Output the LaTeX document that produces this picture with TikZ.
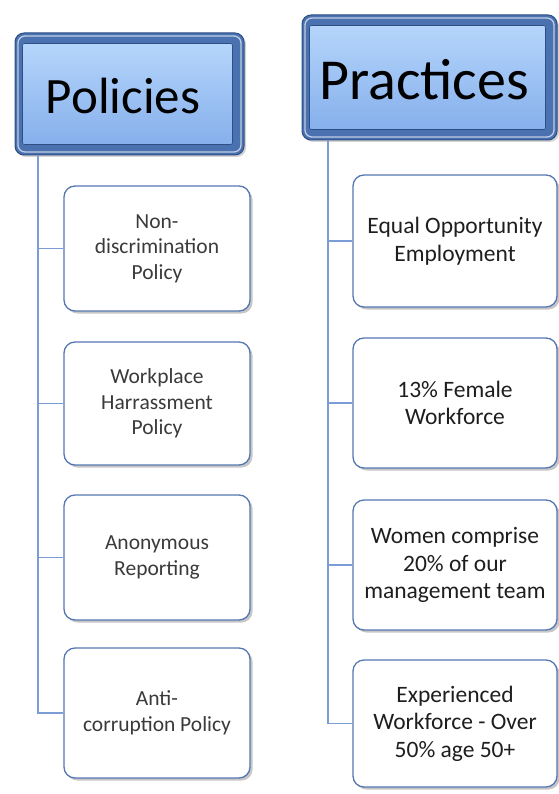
\documentclass[tikz,border=0pt]{standalone}
\usepackage{fontspec}
\setmainfont{Carlito}
\usetikzlibrary{shadows}
\definecolor{hdrdark}{HTML}{4A71B0}
\definecolor{hdredge}{HTML}{2E4E86}
\definecolor{facetop}{HTML}{B5D5FB}
\definecolor{facebot}{HTML}{86B0EC}
\definecolor{boxedge}{HTML}{5677B2}
\definecolor{linkblue}{HTML}{7C9CD6}
\definecolor{poltext}{HTML}{3A3A3A}
\definecolor{prtext}{HTML}{1E1E1E}
\tikzset{
  hdrframe/.style={fill=hdrdark, draw=hdredge, line width=1pt, rounded corners=9pt,
    drop shadow={opacity=0.35, shadow xshift=2pt, shadow yshift=-2pt}},
  hdrtext/.style={text=black, inner sep=0pt},
  childbox/.style={fill=white, draw=boxedge, line width=1.3pt, rounded corners=11pt,
    drop shadow={opacity=0.45, shadow xshift=2.5pt, shadow yshift=-2.5pt}},
  poltxt/.style={text=poltext, align=center, font=\fontsize{21.5}{25.5}\selectfont},
  prtxt/.style={text=prtext, align=center, font=\fontsize{23.5}{27.5}\selectfont},
  link/.style={draw=linkblue, line width=1.3pt},
}
\begin{document}
\begin{tikzpicture}[x=1pt,y=-1pt]
\useasboundingbox (0,0) rectangle (558,794);
% ---------- headers ----------
\node[hdrframe, minimum width=229pt, minimum height=122pt] (polhdr) at (129.5,94) {};
\draw[white, opacity=0.65, line width=1.3pt, rounded corners=7pt]
  ([shift={(3.5pt,-3.5pt)}]polhdr.north west) rectangle ([shift={(-3.5pt,3.5pt)}]polhdr.south east);
\shade[top color=facetop, bottom color=facebot, draw=hdredge, line width=0.6pt, rounded corners=2pt]
  ([shift={(8pt,-11pt)}]polhdr.north west) rectangle ([shift={(-12pt,11pt)}]polhdr.south east);
\node[hdrtext, font=\fontsize{51}{55}\selectfont] (poltitle) at (123,96) {Policies};

\node[hdrframe, minimum width=255pt, minimum height=125pt] (prhdr) at (429.5,77.5) {};
\draw[white, opacity=0.65, line width=1.3pt, rounded corners=7pt]
  ([shift={(3.5pt,-3.5pt)}]prhdr.north west) rectangle ([shift={(-3.5pt,3.5pt)}]prhdr.south east);
\shade[top color=facetop, bottom color=facebot, draw=hdredge, line width=0.6pt, rounded corners=2pt]
  ([shift={(8pt,-11pt)}]prhdr.north west) rectangle ([shift={(-12pt,11pt)}]prhdr.south east);
\node[hdrtext, font=\fontsize{58}{62}\selectfont] (prtitle) at (424,80) {Practices};

% ---------- spines ----------
\coordinate (polspine) at (38,155);
\coordinate (prspine) at (328,140);

% ---------- policy boxes ----------
\node[childbox, minimum width=186pt, minimum height=125pt] (p1) at (157,248.5) {};
\node[poltxt] (p1t) at (p1) {Non-\\discrimination\\Policy};
\node[childbox, minimum width=186pt, minimum height=123pt] (p2) at (157,403.5) {};
\node[poltxt] (p2t) at (p2) {Workplace\\Harrassment\\Policy};
\node[childbox, minimum width=186pt, minimum height=125pt] (p3) at (157,557.5) {};
\node[poltxt] (p3t) at (p3) {Anonymous\\Reporting};
\node[childbox, minimum width=186pt, minimum height=130pt] (p4) at (157,713) {};
\node[poltxt] (p4t) at (p4) {Anti-\\corruption Policy};

% ---------- practice boxes ----------
\node[childbox, minimum width=204pt, minimum height=132pt] (q1) at (455,241) {};
\node[prtxt] (q1t) at (q1) {Equal Opportunity\\Employment};
\node[childbox, minimum width=204pt, minimum height=130pt] (q2) at (455,403) {};
\node[prtxt] (q2t) at (q2) {13\% Female\\Workforce};
\node[childbox, minimum width=204pt, minimum height=130pt] (q3) at (455,565) {};
\node[prtxt] (q3t) at (q3) {Women comprise\\20\% of our\\management team};
\node[childbox, minimum width=204pt, minimum height=127pt] (q4) at (455,723.5) {};
\node[prtxt] (q4t) at (q4) {Experienced\\Workforce - Over\\50\% age 50+};

% ---------- connectors ----------
\path[link] (polspine) |- (p4.west);
\path[link] (polspine |- p1.west) -- (p1.west);
\path[link] (polspine |- p2.west) -- (p2.west);
\path[link] (polspine |- p3.west) -- (p3.west);
\path[link] (prspine) |- (q4.west);
\path[link] (prspine |- q1.west) -- (q1.west);
\path[link] (prspine |- q2.west) -- (q2.west);
\path[link] (prspine |- q3.west) -- (q3.west);
\end{tikzpicture}
\end{document}
